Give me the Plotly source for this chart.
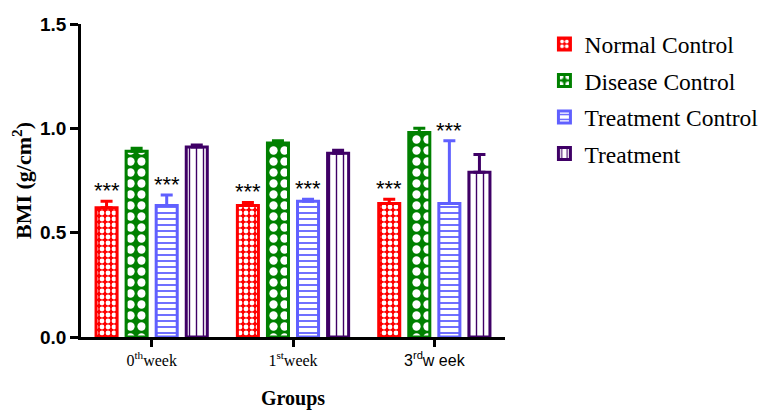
import plotly.graph_objects as go

categories = ["0<sup>th</sup>week", "1<sup>st</sup>week", "<span style=\"font-family:Liberation Sans\">3<sup>rd</sup>w eek</span>"]
series_names = ["Normal Control", "Disease Control", "Treatment Control", "Treatment"]
normal_control = [0.62, 0.63, 0.64]
normal_control_err = [0.03, 0.015, 0.02]
disease_control = [0.89, 0.93, 0.98]
disease_control_err = [0.015, 0.01, 0.02]
treatment_control = [0.63, 0.65, 0.64]
treatment_control_err = [0.05, 0.01, 0.30]
treatment = [0.91, 0.88, 0.79]
treatment_err = [0.01, 0.015, 0.085]
stars_red = ["***", "***", "***"]
stars_blue = ["***", "***", "***"]

values = [normal_control, disease_control, treatment_control, treatment]
errors = [normal_control_err, disease_control_err, treatment_control_err, treatment_err]
colors = ["#ff0000", "#008000", "#6060ff", "#3f0066"]
patterns = [
    dict(shape=".", fgcolor="white", bgcolor="#ff0000", size=6, solidity=0.5, fillmode="replace"),
    dict(shape=".", fgcolor="white", bgcolor="#008000", size=11, solidity=0.45, fillmode="replace"),
    dict(shape="-", fgcolor="#6060ff", bgcolor="white", size=6, solidity=0.3, fillmode="replace"),
    dict(shape="|", fgcolor="#3f0066", bgcolor="white", size=7, solidity=0.2, fillmode="replace"),
]

x_idx = list(range(len(categories)))
fig = go.Figure()
for i, name in enumerate(series_names):
    fig.add_trace(go.Bar(
        x=x_idx, y=values[i], name=name, legendgroup=name,
        marker=dict(color=colors[i], line=dict(color=colors[i], width=3), pattern=patterns[i]),
        error_y=dict(type="data", array=errors[i], arrayminus=[0] * len(categories), symmetric=False,
                     color=colors[i], thickness=3, width=6),
    ))

slot = 0.851 / 4
for k in x_idx:
    fig.add_annotation(x=k - 1.5 * slot, y=normal_control[k] + normal_control_err[k], text=stars_red[k],
                       showarrow=False, yanchor="bottom", yshift=-4,
                       font=dict(family="Liberation Sans", size=22, color="black"))
    fig.add_annotation(x=k + 0.5 * slot, y=treatment_control[k] + treatment_control_err[k], text=stars_blue[k],
                       showarrow=False, yanchor="bottom", yshift=-4,
                       font=dict(family="Liberation Sans", size=22, color="black"))

fig.update_layout(
    width=758, height=402,
    margin=dict(l=73, r=261, t=16, b=73, autoexpand=False),
    plot_bgcolor="white", paper_bgcolor="white",
    barmode="group", bargap=0.149, bargroupgap=0.3,
    showlegend=True,
    legend=dict(x=1.093, y=1.006, xanchor="left", yanchor="top", tracegroupgap=3,
                font=dict(family="Liberation Serif", size=23.5, color="black")),
    xaxis=dict(
        tickmode="array", tickvals=x_idx, ticktext=categories, range=[-0.5, 2.5],
        showline=True, linecolor="black", linewidth=2.5, ticks="outside", ticklen=7, tickwidth=2.5,
        tickcolor="black", showgrid=False, zeroline=False, automargin=False,
        tickfont=dict(family="Liberation Serif", size=16, color="black"),
        title=dict(text="<b>Groups</b>", font=dict(family="Liberation Serif", size=20, color="black"), standoff=30),
    ),
    yaxis=dict(
        range=[0, 1.5], tickvals=[0, 0.5, 1.0, 1.5], ticktext=["<b>0.0</b>", "<b>0.5</b>", "<b>1.0</b>", "<b>1.5</b>"],
        showline=True, linecolor="black", linewidth=2.5, ticks="outside", ticklen=8, tickwidth=2.5,
        tickcolor="black", showgrid=False, zeroline=False, automargin=False,
        tickfont=dict(family="Liberation Sans", size=19, color="black"),
        title=dict(text="<b>BMI (g/cm<sup>2</sup>)</b>", font=dict(family="Liberation Serif", size=22, color="black"), standoff=6),
    ),
)

fig.write_html("out.html")
